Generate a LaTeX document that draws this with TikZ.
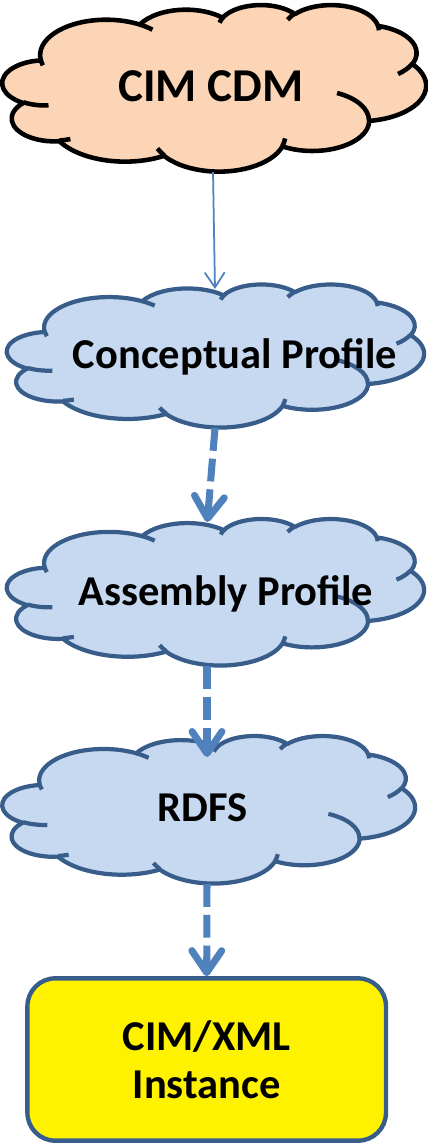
\documentclass[tikz,border=0pt]{standalone}
\usepackage{fontspec}
\setmainfont{Carlito}
\usetikzlibrary{arrows.meta}
\definecolor{peach}{HTML}{FBD5B5}
\definecolor{cloudblue}{HTML}{C6D9F1}
\definecolor{edgeblue}{HTML}{385D8A}
\definecolor{arrowblue}{HTML}{4F81BD}

% OOXML arcTo (visual angles) -> TikZ arc (parametric angles)
\newcommand\defcloudarc[5]{%
  \pgfmathsetmacro\cloudtmpa{atan2((#2)*sin(#4),(#3)*cos(#4))}%
  \pgfmathsetmacro\cloudtmpb{atan2((#2)*sin((#4)+(#5)),(#3)*cos((#4)+(#5)))}%
  \pgfmathsetmacro\cloudtmpd{mod((\cloudtmpb)-(\cloudtmpa)+720,360)}%
  \expandafter\xdef\csname #1\endcsname{arc[start angle=\cloudtmpa, delta angle=\cloudtmpd, x radius=#2, y radius=#3]}%
}
\defcloudarc{cloudarcA}{6.753}{9.190}{-190.48748}{123.78053}
\defcloudarc{cloudarcB}{5.333}{7.267}{-144.10238}{89.94523}
\defcloudarc{cloudarcC}{4.365}{5.945}{-145.80792}{99.72302}
\defcloudarc{cloudarcD}{4.857}{6.595}{-130.98607}{117.24173}
\defcloudarc{cloudarcE}{5.333}{7.273}{-78.70888}{109.02692}
\defcloudarc{cloudarcF}{6.775}{9.220}{-46.26725}{130.26900}
\defcloudarc{cloudarcG}{5.785}{7.867}{0.62502}{114.03333}
\defcloudarc{cloudarcH}{6.752}{9.215}{22.45160}{115.17255}
\defcloudarc{cloudarcI}{7.720}{10.543}{66.24263}{75.71102}
\defcloudarc{cloudarcJ}{4.360}{5.918}{-274.94208}{146.73557}
\defcloudarc{cloudarcK}{4.345}{5.945}{-246.82850}{152.51885}
\defcloudarc{innerarcA}{4.345}{5.945}{86.74200}{26.42950}
\defcloudarc{innerarcB}{4.360}{5.918}{73.61047}{11.44747}
\defcloudarc{innerarcC}{6.752}{9.215}{137.62415}{14.08110}
\defcloudarc{innerarcD}{6.752}{9.215}{6.45327}{15.99835}
\defcloudarc{innerarcE}{5.785}{7.867}{-70.29235}{70.91737}
\defcloudarc{innerarcF}{5.333}{7.273}{30.31803}{27.75150}
\defcloudarc{innerarcG}{4.857}{6.595}{-13.74433}{14.85890}
\defcloudarc{innerarcH}{4.857}{6.595}{-149.18145}{18.19537}
\defcloudarc{innerarcI}{4.365}{5.945}{-163.49427}{17.68635}
\defcloudarc{innerarcJ}{6.753}{9.190}{-66.70695}{12.31935}
\defcloudarc{innerarcK}{6.753}{9.190}{157.65435}{11.85817}

\newcommand\cloudshape[5]{% x0 y0 w h style
  \begin{scope}[shift={(#1,#2)},xscale=#3/43.2,yscale=#4/43.2]
    \path[#5] (3.9,14.37) \cloudarcA \cloudarcB \cloudarcC \cloudarcD \cloudarcE
      \cloudarcF \cloudarcG \cloudarcH \cloudarcI \cloudarcJ \cloudarcK -- cycle;
    \path[#5,fill=none] (4.693,26.177) \innerarcA (6.928,34.899) \innerarcB
      (16.478,39.090) \innerarcC (28.827,34.751) \innerarcD (34.129,22.954) \innerarcE
      (41.798,15.354) \innerarcF (38.324,5.426) \innerarcG (29.078,3.952) \innerarcH
      (22.141,4.720) \innerarcI (14.000,5.192) \innerarcJ (4.127,15.789) \innerarcK;
  \end{scope}}

\tikzset{
  peachcloud/.style={fill=peach, draw=black, line width=2.6pt, line join=round},
  bluecloud/.style={fill=cloudblue, draw=edgeblue, line width=2.4pt, line join=round},
  lbl/.style={font=\bfseries\fontsize{24.2pt}{27.4pt}\selectfont, anchor=base, inner sep=0pt},
  bigl/.style={font=\bfseries\fontsize{26.8pt}{30pt}\selectfont, anchor=base, inner sep=0pt},
  instbox/.style={draw=edgeblue, fill=yellow, line width=2.5pt, rounded corners=15.9pt,
    minimum width=204.1pt, minimum height=92.4pt, inner sep=0pt, align=center,
    font=\bfseries\fontsize{24.2pt}{27.4pt}\selectfont},
  thinarrow/.style={draw=arrowblue, line width=1pt, -{Straight Barb[length=8.5pt, width=11.3pt]}},
  dasharrow/.style={draw=arrowblue, line width=4pt, dash pattern=on 13pt off 4.5pt,
    -{Straight Barb[length=12.5pt, width=17pt, round]}}
}

\begin{document}
\begin{tikzpicture}[x=0.02cm, y=-0.02cm]
\useasboundingbox (0,0) rectangle (428,1144);

\cloudshape{2.5}{4.5}{423.5}{166.5}{peachcloud}
\cloudshape{7}{284}{417}{143}{bluecloud}
\cloudshape{7}{518.5}{417}{146.5}{bluecloud}
\cloudshape{2.5}{735.5}{412.5}{147.5}{bluecloud}

\node[bigl] (cdm) at (211,101.7) {CIM CDM};
\node[lbl] (concept) at (235,368.3) {Conceptual Profile};
\node[lbl] (assembly) at (226,605) {Assembly Profile};
\node[lbl] (rdfs) at (202.5,821.7) {RDFS};
\node[instbox] (xmlbox) at (206.7,1059.5) {CIM/XML\\Instance};

\coordinate (cdmbot) at (213,172);
\coordinate (concepttop) at (215,289);
\coordinate (conceptbot) at (215,428);
\coordinate (assemblytop) at (207.3,522);
\coordinate (assemblybot) at (207,666);
\coordinate (rdfstop) at (207,757);
\coordinate (rdfsbot) at (207,884);

\draw[thinarrow] (cdmbot) -- (concepttop);
\draw[dasharrow] (conceptbot) -- (assemblytop);
\draw[dasharrow] (assemblybot) -- (rdfstop);
\draw[dasharrow] (rdfsbot) -- (xmlbox.north);
\end{tikzpicture}
\end{document}
